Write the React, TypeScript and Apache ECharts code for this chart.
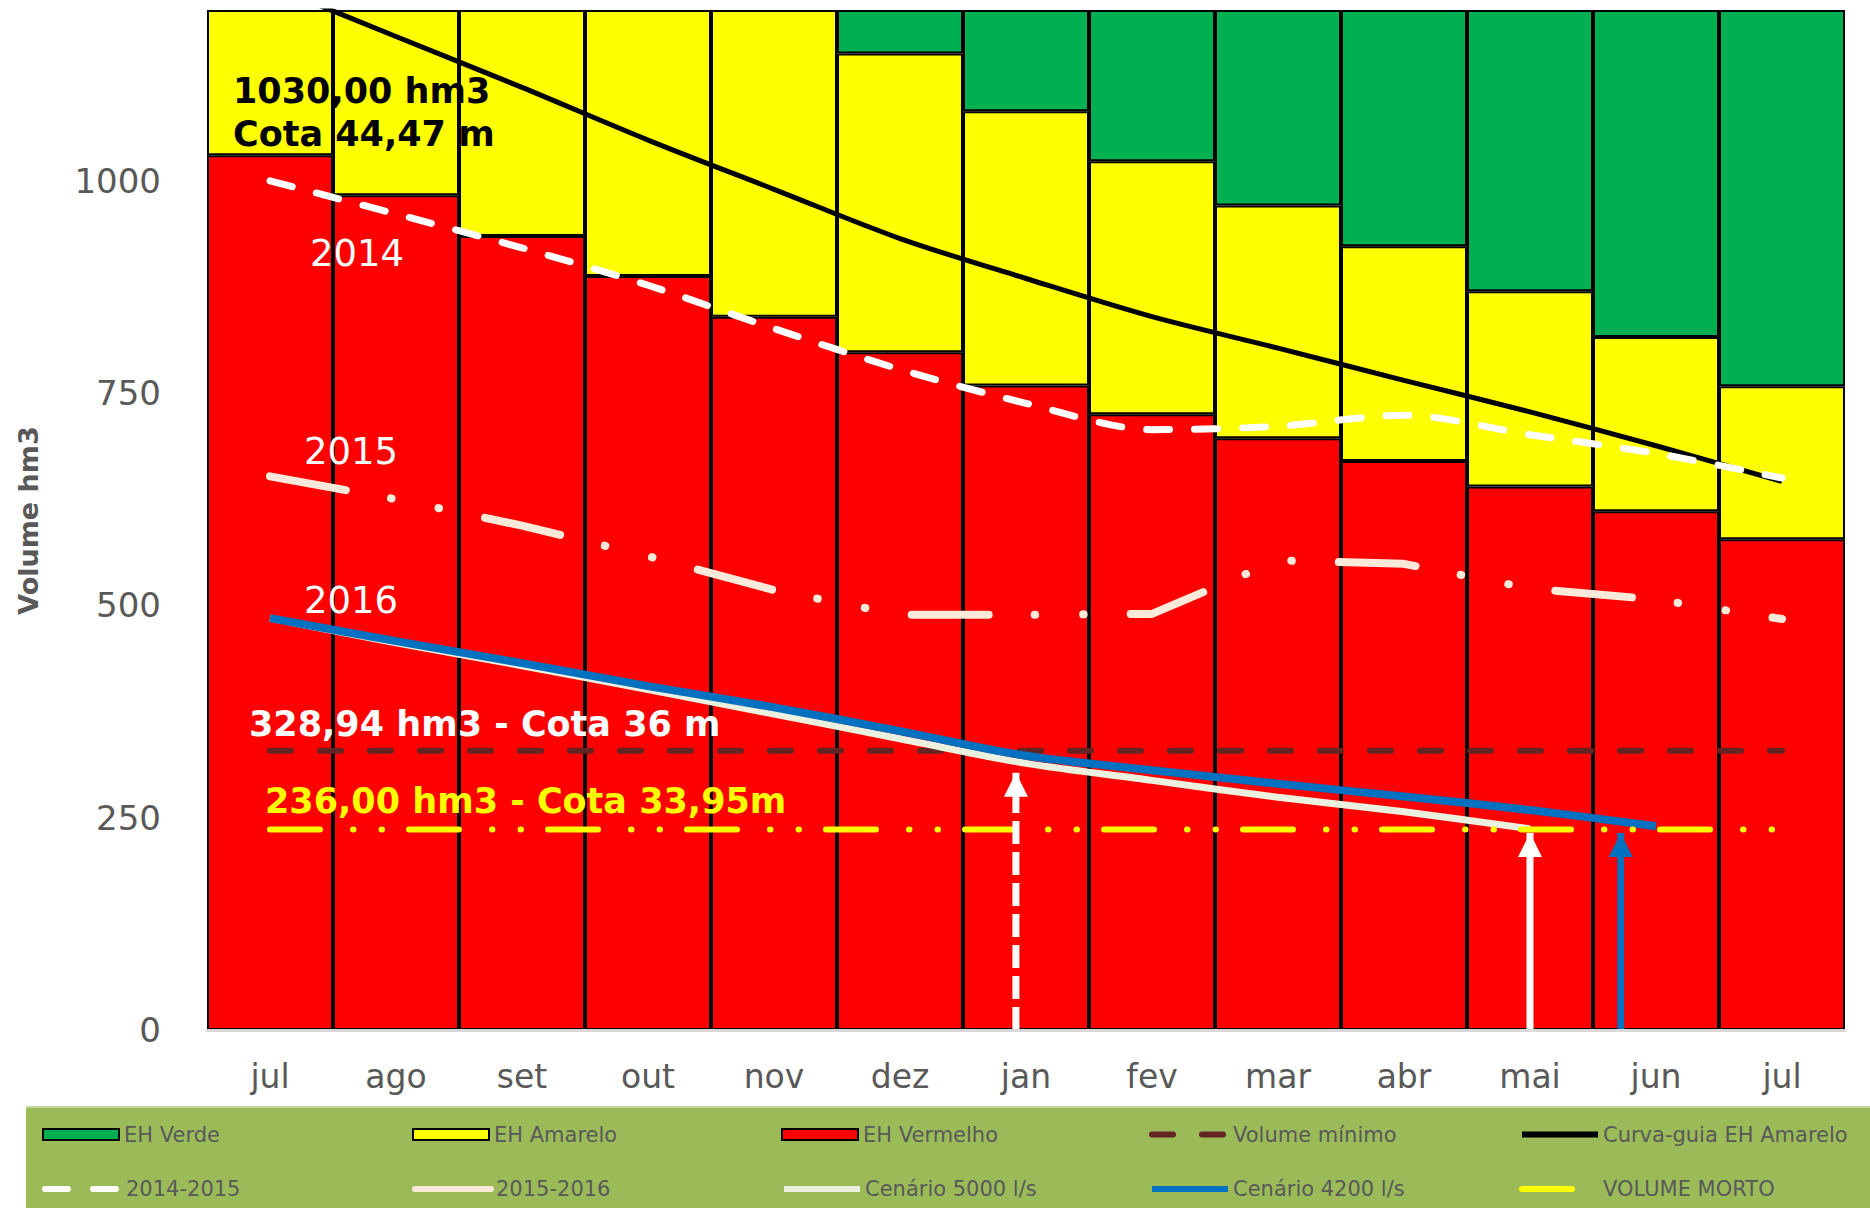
import React, { useEffect, useRef } from 'react';
import * as echarts from 'echarts';

// ---------- data ----------
const meses = ['jul', 'ago', 'set', 'out', 'nov', 'dez', 'jan', 'fev', 'mar', 'abr', 'mai', 'jun', 'jul'];
const yTicks = [0, 250, 500, 750, 1000];

// stacked zone levels (top of each colour band, hm3)
const ehVermelhoTopo = [1030, 983, 935, 888, 840, 798, 759, 725, 697, 670, 640, 611, 578];
const ehAmareloTopo = [1250, 1250, 1250, 1250, 1250, 1150, 1082, 1023, 971, 923, 870, 816, 758];
const ehVerdeTopo = [1250, 1250, 1250, 1250, 1250, 1250, 1250, 1250, 1250, 1250, 1250, 1250, 1250];

const curvaGuia = [1230, 1170, 1110, 1048, 990, 932, 885, 840, 803, 765, 728, 688, 646];
const serie2014_2015 = [1000, 961, 921, 877, 826, 778, 738, 707, 711, 724, 701, 679, 650];
const serie2015_2016 = [652, 625, 594, 558, 518, 489, 489, 490, 553, 549, 520, 507, 484];
const cenario5000 = [485, 456, 429, 401, 372, 343, 314, 294, 274, 257, 237, null, null];
const cenario4200 = [485, 458, 432, 405, 380, 352, 323, 306, 290, 275, 259, 240, null];
const volumeMinimo = [328.94, 328.94, 328.94, 328.94, 328.94, 328.94, 328.94, 328.94, 328.94, 328.94, 328.94, 328.94, 328.94];
const volumeMorto = [236, 236, 236, 236, 236, 236, 236, 236, 236, 236, 236, 236, 236];

// arrows: position in category units (0 = first "jul") and tip value
const setaX = [5.92, 10.0, 10.72];
const setaTopo = [303, 232, 232];

const GRAY = '#595959';
const FONT = 'DejaVu Sans';

export default function App() {
  const ref = useRef<HTMLDivElement>(null);

  useEffect(() => {
    if (!ref.current) return;
    const chart = echarts.init(ref.current, null, { renderer: 'svg' });

    const vermelho = ehVermelhoTopo;
    const amarelo = ehAmareloTopo.map((v, i) => v - ehVermelhoTopo[i]);
    const verde = ehVerdeTopo.map((v, i) => v - ehAmareloTopo[i]);

    const barBase = {
      type: 'bar',
      stack: 'eh',
      barCategoryGap: '0%',
      barGap: '0%',
      z: 1,
      emphasis: { disabled: true },
    };

    const lineBase = {
      type: 'line',
      symbol: 'none',
      showSymbol: false,
      emphasis: { disabled: true },
      z: 3,
    };

    const arrowSeries = (i: number, color: string, dashed: boolean) => ({
      type: 'line',
      xAxisIndex: 1,
      yAxisIndex: 0,
      z: 6,
      symbol: 'none',
      showSymbol: true,
      emphasis: { disabled: true },
      lineStyle: { color, width: 7, type: dashed ? [23, 8] : 'solid', cap: 'butt' },
      itemStyle: { color },
      data: [
        { value: [setaX[i], 0], symbol: 'none' },
        { value: [setaX[i], setaTopo[i]], symbol: 'triangle', symbolSize: [24, 24], symbolOffset: [0, 12] },
      ],
    });

    const legendCols = [42, 412, 781, 1149, 1519];
    const legendRows = [1123.5, 1178];
    const legendDefs: [string, number, number, boolean][] = [
      ['EH Verde', 0, 0, true],
      ['EH Amarelo', 1, 0, true],
      ['EH Vermelho', 2, 0, true],
      ['Volume mínimo', 3, 0, false],
      ['Curva-guia EH Amarelo', 4, 0, false],
      ['2014-2015', 0, 1, false],
      ['2015-2016', 1, 1, false],
      ['Cenário 5000 l/s', 2, 1, false],
      ['Cenário 4200 l/s', 3, 1, false],
      ['VOLUME MORTO', 4, 1, false],
    ];
    const legends = legendDefs.map(([name, c, r, isBar]) => ({
      data: [isBar ? { name, icon: 'rect' } : { name }],
      left: legendCols[c],
      top: legendRows[r],
      padding: 0,
      itemWidth: 76,
      itemHeight: 11,
      itemGap: 0,
      selectedMode: false,
      textStyle: { color: GRAY, fontSize: 21, fontFamily: FONT, lineHeight: 22 },
      itemStyle: isBar ? { borderColor: '#000', borderWidth: 2 } : { opacity: 0 },
      lineStyle: isBar ? undefined : { width: 6 },
    }));

    const option: any = {
      animation: false,
      backgroundColor: '#ffffff',
      grid: { left: 207, right: 25, top: 11, bottom: 178, containLabel: false },
      xAxis: [
        {
          type: 'category',
          data: meses,
          z: 10,
          axisLine: { show: true, lineStyle: { color: '#D9D9D9', width: 3 } },
          axisTick: { show: false },
          axisLabel: { color: GRAY, fontSize: 33, fontFamily: FONT, margin: 30, interval: 0 },
          splitLine: { show: false },
        },
        { type: 'value', min: -0.5, max: 12.5, show: false, position: 'top' },
      ],
      yAxis: {
        type: 'value',
        min: 0,
        max: 1200,
        interval: 250,
        name: 'Volume hm3',
        nameLocation: 'middle',
        nameRotate: 90,
        nameGap: 165,
        nameTextStyle: { color: GRAY, fontSize: 27, fontWeight: 'bold', fontFamily: FONT },
        axisLine: { show: false },
        axisTick: { show: false },
        splitLine: { show: false },
        axisLabel: {
          color: GRAY,
          fontSize: 34,
          fontFamily: FONT,
          margin: 46,
          showMaxLabel: false,
          formatter: (v: number) => (yTicks.includes(v) ? String(v) : ''),
        },
      },
      legend: legends,
      series: [
        { ...barBase, name: 'EH Vermelho', data: vermelho, itemStyle: { color: '#FF0000', borderColor: '#000', borderWidth: 2 } },
        { ...barBase, name: 'EH Amarelo', data: amarelo, itemStyle: { color: '#FFFF00', borderColor: '#000', borderWidth: 2 } },
        { ...barBase, name: 'EH Verde', data: verde, itemStyle: { color: '#00B050', borderColor: '#000', borderWidth: 2 } },
        {
          ...lineBase, name: 'Volume mínimo', data: volumeMinimo,
          lineStyle: { color: '#632523', width: 6, type: [21, 29], cap: 'round' }, itemStyle: { color: '#632523' },
        },
        {
          ...lineBase, name: 'Curva-guia EH Amarelo', data: curvaGuia, smooth: 0.3,
          lineStyle: { color: '#000000', width: 5 }, itemStyle: { color: '#000000' },
        },
        {
          ...lineBase, name: '2014-2015', data: serie2014_2015, smooth: 0.3,
          lineStyle: { color: '#FFFFFF', width: 7, type: [23, 25], cap: 'round' }, itemStyle: { color: '#FFFFFF' },
        },
        {
          ...lineBase, name: '2015-2016', data: serie2015_2016,
          lineStyle: { color: '#FDE9D9', width: 8, type: [77, 46, 0.5, 48, 0.5, 47], cap: 'round' }, itemStyle: { color: '#FDE9D9' },
        },
        {
          ...lineBase, name: 'Cenário 5000 l/s', data: cenario5000, smooth: 0.3,
          lineStyle: { color: '#EBF1DE', width: 7 }, itemStyle: { color: '#EBF1DE' },
        },
        {
          ...lineBase, name: 'Cenário 4200 l/s', data: cenario4200, smooth: 0.3,
          lineStyle: { color: '#0070C0', width: 8 }, itemStyle: { color: '#0070C0' },
        },
        {
          ...lineBase, name: 'VOLUME MORTO', data: volumeMorto,
          lineStyle: { color: '#FFFF00', width: 6, type: [50, 33, 0.5, 28, 0.5, 27], cap: 'round' }, itemStyle: { color: '#FFFF00' },
        },
        arrowSeries(0, '#FFFFFF', true),
        arrowSeries(1, '#FFFFFF', false),
        arrowSeries(2, '#0070C0', false),
      ],
      graphic: [
        { type: 'rect', silent: true, z: -1, shape: { x: 26, y: 1107, width: 1844, height: 101 }, style: { fill: '#9BBB59' } },
        { type: 'line', silent: true, z: -1, shape: { x1: 26, y1: 1107, x2: 1870, y2: 1107 }, style: { stroke: '#C3D69B', lineWidth: 2 } },
        { type: 'text', z: 100, x: 233, y: 91, style: { text: '1030,00 hm3', fill: '#000', fontSize: 35, fontWeight: 'bold', fontFamily: FONT, verticalAlign: 'middle' } },
        { type: 'text', z: 100, x: 233, y: 134, style: { text: 'Cota 44,47 m', fill: '#000', fontSize: 35, fontWeight: 'bold', fontFamily: FONT, verticalAlign: 'middle' } },
        { type: 'text', z: 100, x: 310, y: 253, style: { text: '2014', fill: '#fff', fontSize: 37, fontFamily: FONT, verticalAlign: 'middle' } },
        { type: 'text', z: 100, x: 304, y: 451, style: { text: '2015', fill: '#fff', fontSize: 37, fontFamily: FONT, verticalAlign: 'middle' } },
        { type: 'text', z: 100, x: 304, y: 600, style: { text: '2016', fill: '#fff', fontSize: 37, fontFamily: FONT, verticalAlign: 'middle' } },
        { type: 'text', z: 100, x: 249, y: 724, style: { text: '328,94 hm3 - Cota 36 m', fill: '#fff', fontSize: 35, fontWeight: 'bold', fontFamily: FONT, verticalAlign: 'middle' } },
        { type: 'text', z: 100, x: 265, y: 801, style: { text: '236,00 hm3 - Cota 33,95m', fill: '#FFFF00', fontSize: 35, fontWeight: 'bold', fontFamily: FONT, verticalAlign: 'middle' } },
      ],
    };

    chart.setOption(option);
    return () => chart.dispose();
  }, []);

  return (
    <div
      ref={ref}
      style={{ position: 'fixed', left: 0, top: 0, width: 1870, height: 1208, background: '#fff' }}
    />
  );
}
